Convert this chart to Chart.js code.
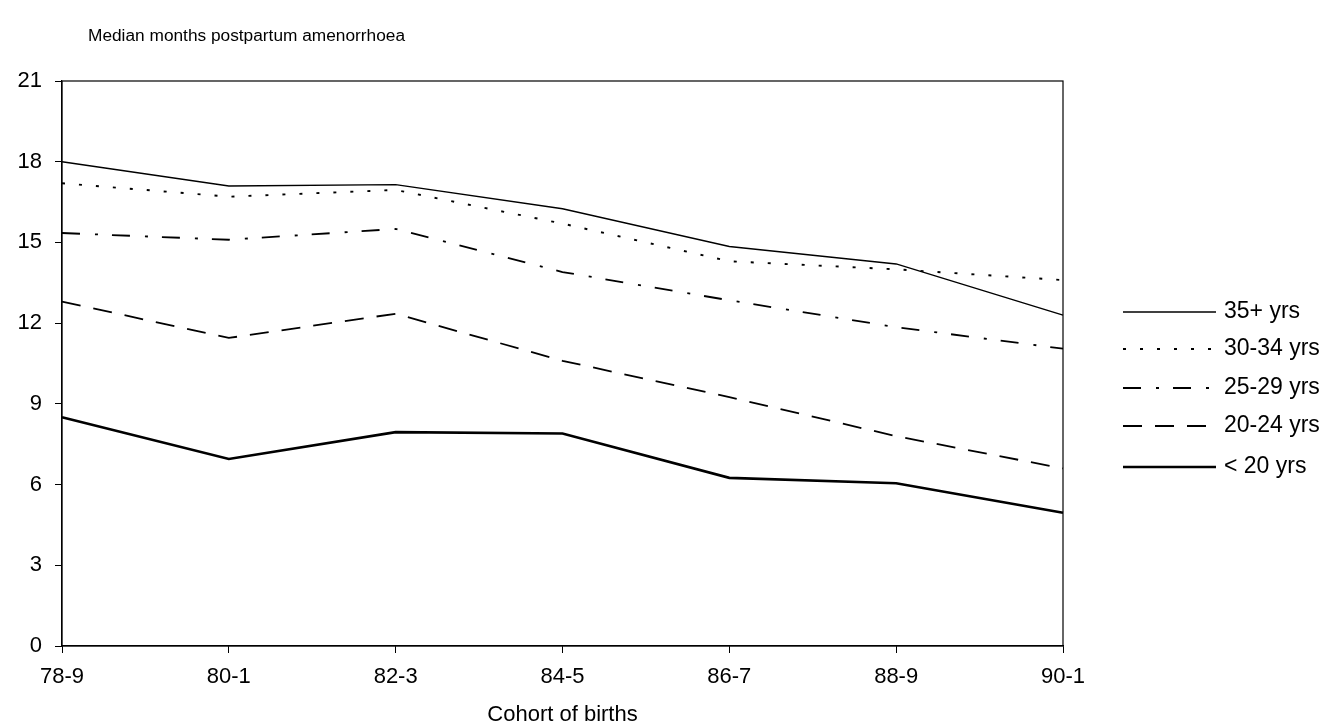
<!DOCTYPE html>
<html>
<head>
<meta charset="utf-8">
<script src="https://cdn.jsdelivr.net/npm/chart.js@4.4.1/dist/chart.umd.min.js"></script>
<style>
  html, body { margin: 0; padding: 0; background: #fff; }
  #wrap { width: 1329px; height: 728px; position: relative; }
</style>
</head>
<body>
<div id="wrap"><canvas id="c" width="1329" height="728"></canvas></div>
<script>
// ---- Data ----
const categories = ['78-9', '80-1', '82-3', '84-5', '86-7', '88-9', '90-1'];
const seriesLabels = ['35+ yrs', '30-34 yrs', '25-29 yrs', '20-24 yrs', '< 20 yrs'];
const age35plus = [18.0, 17.1, 17.15, 16.25, 14.85, 14.2, 12.3];
const age30to34 = [17.2, 16.7, 16.95, 15.7, 14.3, 14.0, 13.6];
const age25to29 = [15.35, 15.1, 15.5, 13.9, 12.85, 11.85, 11.05];
const age20to24 = [12.8, 11.45, 12.35, 10.6, 9.25, 7.8, 6.6];
const ageUnder20 = [8.5, 6.95, 7.95, 7.9, 6.25, 6.05, 4.95];
const yMin = 0, yMax = 21, yStep = 3;
const titleText = 'Median months postpartum amenorrhoea';
const xTitleText = 'Cohort of births';

const FONT = "'Liberation Sans', Arial, sans-serif";

const styles = [
  { borderWidth: 1.4, borderDash: [] },
  { borderWidth: 1.9, borderDash: [3, 14] },
  { borderWidth: 1.8, borderDash: [18, 15, 3, 14] },
  { borderWidth: 1.8, borderDash: [19, 13] },
  { borderWidth: 2.6, borderDash: [] }
];
const seriesValues = [age35plus, age30to34, age25to29, age20to24, ageUnder20];

const datasets = seriesValues.map((vals, i) => ({
  label: seriesLabels[i],
  data: vals,
  borderColor: '#000',
  backgroundColor: '#000',
  borderWidth: styles[i].borderWidth,
  borderDash: styles[i].borderDash,
  pointRadius: 0,
  tension: 0,
  fill: false
}));

const framePlugin = {
  id: 'frame',
  afterDatasetsDraw(chart) {
    const { ctx, chartArea: a } = chart;
    ctx.save();
    ctx.strokeStyle = '#000';
    ctx.lineWidth = 1.2;
    ctx.setLineDash([]);
    ctx.strokeRect(a.left, a.top, a.right - a.left, a.bottom - a.top);
    ctx.restore();
  },
  afterDraw(chart) {
    const { ctx } = chart;
    ctx.save();
    // top-left title
    ctx.fillStyle = '#000';
    ctx.font = '17.3px ' + FONT;
    ctx.textBaseline = 'middle';
    ctx.textAlign = 'left';
    ctx.fillText(titleText, 88, 36);
    // legend
    const rowY = [312, 349, 388, 426, 467];
    chart.data.datasets.forEach((ds, i) => {
      const y = rowY[i];
      ctx.strokeStyle = '#000';
      ctx.lineWidth = ds.borderWidth;
      ctx.setLineDash(ds.borderDash || []);
      ctx.beginPath();
      ctx.moveTo(1123, y);
      ctx.lineTo(1216, y);
      ctx.stroke();
      ctx.setLineDash([]);
      ctx.font = '23px ' + FONT;
      ctx.fillText(ds.label, 1224, y);
    });
    ctx.restore();
  }
};

new Chart(document.getElementById('c'), {
  type: 'line',
  data: { labels: categories, datasets },
  options: {
    responsive: false,
    animation: false,
    devicePixelRatio: 1,
    layout: { padding: { left: 0, right: 266, top: 81, bottom: 0 } },
    plugins: { legend: { display: false }, tooltip: { enabled: false }, title: { display: false } },
    scales: {
      x: {
        type: 'category',
        offset: false,
        grid: { display: true, drawOnChartArea: false, drawTicks: true, tickLength: 7, color: '#000', lineWidth: 1 },
        border: { display: true, color: '#000', width: 1.2 },
        ticks: { color: '#000', font: { family: FONT, size: 22 }, padding: 11, maxRotation: 0, autoSkip: false },
        title: { display: true, text: xTitleText, color: '#000', font: { family: FONT, size: 22 }, padding: { top: 0, bottom: 0 } },
        afterFit(scale) { scale.height = 82; }
      },
      y: {
        min: yMin, max: yMax,
        grid: { display: true, drawOnChartArea: false, drawTicks: true, tickLength: 7, color: '#000', lineWidth: 1 },
        border: { display: true, color: '#000', width: 1.2 },
        ticks: { stepSize: yStep, color: '#000', font: { family: FONT, size: 22 }, padding: 13 },
        afterFit(scale) { scale.width = 62; }
      }
    }
  },
  plugins: [framePlugin]
});
</script>
</body>
</html>
